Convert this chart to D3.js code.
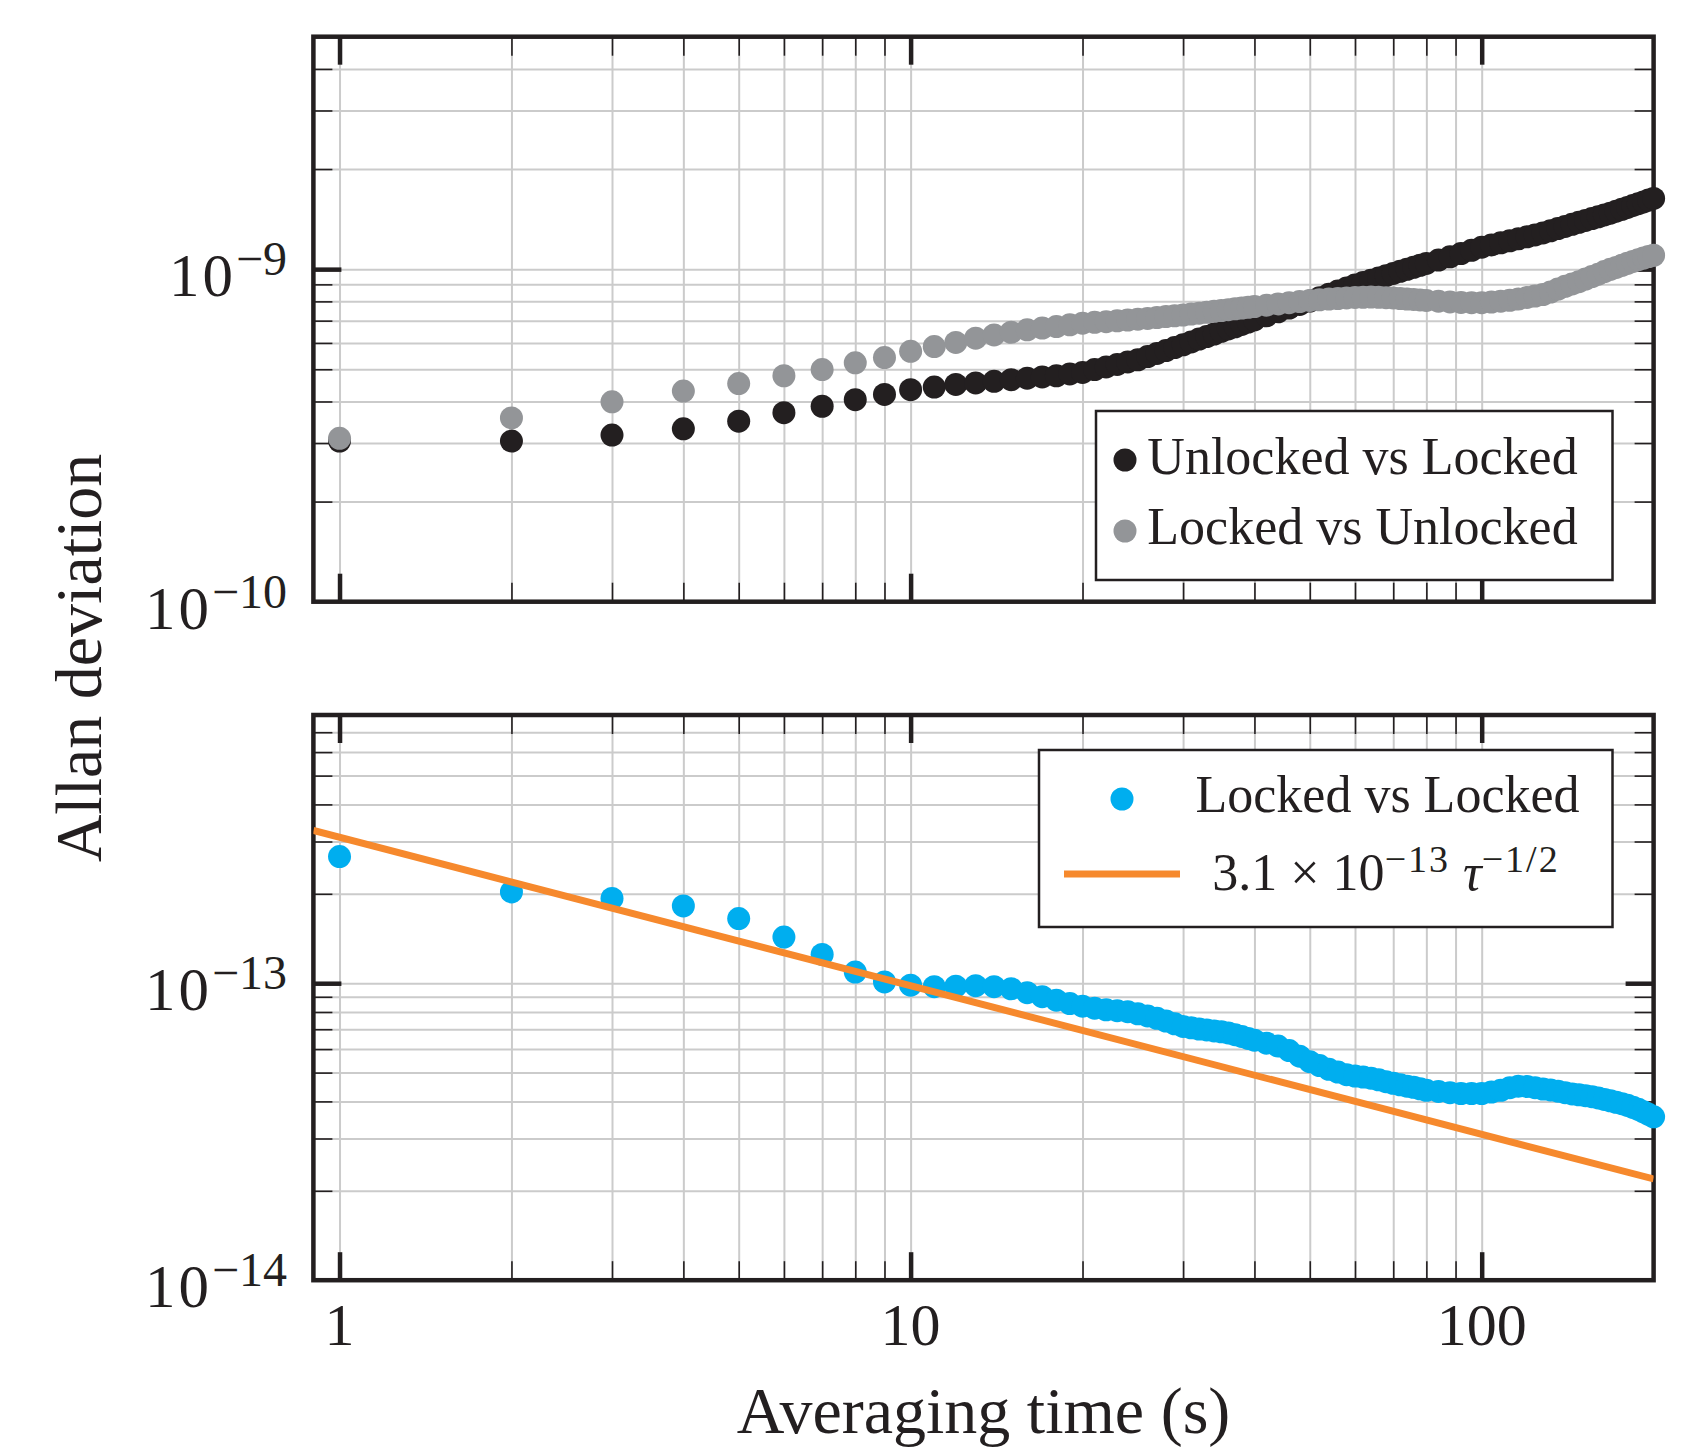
<!DOCTYPE html>
<html>
<head>
<meta charset="utf-8">
<script src="https://cdn.jsdelivr.net/npm/d3@7"></script>
<style>
body { margin: 0; background: #fff; }
text { font-family: "Liberation Serif", "DejaVu Serif", serif; fill: #231f20; }
</style>
</head>
<body>
<script>
// averaging times (s)
const tau = [1, 2, 3, 4, 5, 6, 7, 8, 9, 10,
  11, 12, 13, 14, 15, 16, 17, 18, 19, 20,
  21, 22, 23, 24, 25, 26, 27, 28, 29, 30,
  31, 32, 33, 34, 35, 36, 37, 38, 39, 40,
  42, 44, 46, 48, 50, 52, 54, 56, 58, 60, 62, 64, 66, 68, 70, 72, 74, 76, 78, 80,
  84, 88, 92, 96, 100, 104, 108, 112, 116, 120, 124, 128, 132, 136, 140,
  144, 148, 152, 156, 160, 164, 168, 172, 176, 180, 184, 188, 192, 196, 200];

// top panel, units of 1e-10
const unlockedVsLocked = [3.04, 3.04, 3.17, 3.31, 3.49, 3.70, 3.87, 4.05, 4.20, 4.34,
  4.42, 4.50, 4.55, 4.60, 4.65, 4.70, 4.74, 4.78, 4.84, 4.89,
  4.99, 5.08, 5.17, 5.26, 5.34, 5.46, 5.58, 5.69, 5.81, 5.92,
  6.04, 6.16, 6.27, 6.38, 6.50, 6.61, 6.71, 6.82, 6.93, 7.04,
  7.24, 7.44, 7.64, 7.83, 8.02, 8.21, 8.41, 8.59, 8.77, 8.96, 9.11, 9.26, 9.41, 9.56, 9.71, 9.85, 9.99, 10.13, 10.27, 10.40,
  10.65, 10.89, 11.14, 11.39, 11.64, 11.82, 12.00, 12.17, 12.34, 12.51, 12.67, 12.85, 13.04, 13.24, 13.44,
  13.64, 13.83, 14.01, 14.20, 14.37, 14.55, 14.73, 14.94, 15.13, 15.33, 15.54, 15.73, 15.93, 16.13, 16.32];

const lockedVsUnlocked = [3.10, 3.57, 3.99, 4.30, 4.53, 4.78, 4.99, 5.23, 5.42, 5.66,
  5.85, 6.02, 6.20, 6.34, 6.46, 6.57, 6.65, 6.72, 6.80, 6.88,
  6.92, 6.95, 6.99, 7.03, 7.07, 7.11, 7.15, 7.20, 7.24, 7.28,
  7.33, 7.37, 7.42, 7.47, 7.51, 7.55, 7.60, 7.64, 7.68, 7.72,
  7.79, 7.86, 7.93, 7.99, 8.05, 8.09, 8.13, 8.16, 8.19, 8.22, 8.23, 8.24, 8.23, 8.21, 8.19, 8.16, 8.13, 8.11, 8.08, 8.05,
  8.01, 7.97, 7.94, 7.93, 7.93, 7.96, 8.01, 8.06, 8.13, 8.22, 8.30, 8.39, 8.53, 8.71, 8.88,
  9.03, 9.17, 9.34, 9.50, 9.66, 9.83, 9.99, 10.12, 10.27, 10.41, 10.55, 10.68, 10.80, 10.91, 11.01];

// bottom panel, units of 1e-13
const lockedVsLocked = [2.67, 2.03, 1.93, 1.82, 1.65, 1.43, 1.25, 1.09, 1.01, 0.985,
  0.973, 0.977, 0.981, 0.973, 0.958, 0.929, 0.901, 0.877, 0.854, 0.837,
  0.824, 0.814, 0.808, 0.802, 0.789, 0.776, 0.762, 0.746, 0.730, 0.715,
  0.708, 0.701, 0.696, 0.691, 0.686, 0.680, 0.671, 0.662, 0.652, 0.643,
  0.628, 0.614, 0.593, 0.568, 0.544, 0.528, 0.513, 0.502, 0.492, 0.487, 0.483, 0.479, 0.473, 0.466, 0.460, 0.455, 0.450, 0.446, 0.441, 0.436,
  0.432, 0.428, 0.425, 0.425, 0.425, 0.430, 0.436, 0.445, 0.450, 0.449, 0.445, 0.440, 0.437, 0.433, 0.428,
  0.424, 0.421, 0.418, 0.415, 0.411, 0.406, 0.402, 0.397, 0.393, 0.388, 0.382, 0.376, 0.369, 0.362, 0.355];

const topUnit = 1e-10;
const bottomUnit = 1e-13;
const fitAmp = 3.1e-13;
const fitExp = -0.5;

const xTickLabels = [1, 10, 100];
const topDecades = [-10, -9];
const bottomDecades = [-14, -13];
const topLegend = ["Unlocked vs Locked", "Locked vs Unlocked"];
const bottomLegend = "Locked vs Locked";

const ink = "#231f20", grey = "#939598", blue = "#00aeef", orange = "#f6892d", gridColor = "#cbcbcb";
const r = 11.5;

var svg = d3.select("body").append("svg")
  .attr("width", 1700)
  .attr("height", 1448);

var left = 313.4, right = 1653.6;
var x = d3.scaleLog().domain([0.9, 200]).range([left, right]);
var yTop = d3.scaleLog().domain([1e-10, 5e-9]).range([601.7, 36.7]);
var yBot = d3.scaleLog().domain([1e-14, 8e-13]).range([1280.2, 715]);

function isMajor(d) {
  var l = Math.log10(d);
  return Math.abs(l - Math.round(l)) < 1e-6;
}

function inside(scale) {
  var dom = scale.domain();
  return scale.ticks().filter(d => d > dom[0] * 1.0001 && d < dom[1] * 0.9999);
}

function drawPanel(y) {
  var y0 = y.range()[0], y1 = y.range()[1];
  var xt = inside(x), yt = inside(y);
  var g = svg.append("g");

  // grid
  g.append("g")
    .attr("transform", `translate(0,${y0})`)
    .call(d3.axisBottom(x).tickValues(xt).tickSize(-(y0 - y1)).tickFormat(""))
    .call(s => s.select(".domain").remove())
    .selectAll("line").attr("stroke", gridColor).attr("stroke-width", 2);
  g.append("g")
    .attr("transform", `translate(${left},0)`)
    .call(d3.axisLeft(y).tickValues(yt).tickSize(-(right - left)).tickFormat(""))
    .call(s => s.select(".domain").remove())
    .selectAll("line").attr("stroke", gridColor).attr("stroke-width", 2);

  // ticks on all four sides, pointing inwards
  [[true, 28, 4.5], [false, 19, 1.6]].forEach(function(spec) {
    var xv = xt.filter(d => isMajor(d) === spec[0]);
    var yv = yt.filter(d => isMajor(d) === spec[0]);
    var axes = [
      [d3.axisTop(x).tickValues(xv), `translate(0,${y0})`],
      [d3.axisBottom(x).tickValues(xv), `translate(0,${y1})`],
      [d3.axisRight(y).tickValues(yv), `translate(${left},0)`],
      [d3.axisLeft(y).tickValues(yv), `translate(${right},0)`]
    ];
    axes.forEach(function(a) {
      g.append("g")
        .attr("transform", a[1])
        .call(a[0].tickSize(spec[1]).tickFormat(""))
        .call(s => s.select(".domain").remove())
        .selectAll("line").attr("stroke", ink).attr("stroke-width", spec[2]);
    });
  });

  // frame
  g.append("rect")
    .attr("x", left)
    .attr("y", y1)
    .attr("width", right - left)
    .attr("height", y0 - y1)
    .attr("fill", "none")
    .attr("stroke", ink)
    .attr("stroke-width", 4.5);
}

drawPanel(yTop);
drawPanel(yBot);

// y tick labels 10^n
function powLabel(y, e) {
  var t = svg.append("text")
    .attr("x", 287)
    .attr("y", y(Math.pow(10, e)) + 27)
    .attr("text-anchor", "end")
    .style("font-size", "61px");
  t.append("tspan").style("letter-spacing", "3px").text("10");
  t.append("tspan").attr("dy", -21).style("font-size", "48px").text("\u2212" + Math.abs(e));
}
topDecades.forEach(e => powLabel(yTop, e));
bottomDecades.forEach(e => powLabel(yBot, e));

// x tick labels
svg.selectAll(".xlab")
  .data(xTickLabels)
  .enter()
  .append("text")
  .attr("class", "xlab")
  .attr("x", d => x(d))
  .attr("y", 1345)
  .attr("text-anchor", "middle")
  .style("font-size", "60px")
  .text(d => d);

// axis titles
svg.append("text")
  .attr("x", (left + right) / 2)
  .attr("y", 1433)
  .attr("text-anchor", "middle")
  .style("font-size", "66px")
  .text("Averaging time (s)");

svg.append("text")
  .attr("transform", "translate(101,658) rotate(-90)")
  .attr("text-anchor", "middle")
  .style("font-size", "66px")
  .text("Allan deviation");

// data
function dots(values, unit, y, color) {
  svg.append("g")
    .selectAll("circle")
    .data(tau)
    .enter()
    .append("circle")
    .attr("cx", d => x(d))
    .attr("cy", (d, i) => y(values[i] * unit))
    .attr("r", r)
    .attr("fill", color);
}
dots(unlockedVsLocked, topUnit, yTop, ink);
dots(lockedVsUnlocked, topUnit, yTop, grey);
dots(lockedVsLocked, bottomUnit, yBot, blue);

// fit line
svg.append("clipPath").attr("id", "clipBot")
  .append("rect")
  .attr("x", left).attr("y", yBot.range()[1])
  .attr("width", right - left).attr("height", yBot.range()[0] - yBot.range()[1]);

var fitLine = d3.line()
  .x(d => x(d))
  .y(d => yBot(fitAmp * Math.pow(d, fitExp)));

svg.append("path")
  .datum(x.domain())
  .attr("d", fitLine)
  .attr("clip-path", "url(#clipBot)")
  .attr("fill", "none")
  .attr("stroke", orange)
  .attr("stroke-width", 7);

// legends
svg.append("rect")
  .attr("x", 1096).attr("y", 411)
  .attr("width", 516.5).attr("height", 169)
  .attr("fill", "#fff").attr("stroke", ink).attr("stroke-width", 2.5);

[ink, grey].forEach(function(c, i) {
  svg.append("circle")
    .attr("cx", 1125).attr("cy", 460 + i * 71)
    .attr("r", r).attr("fill", c);
  svg.append("text")
    .attr("x", 1362.5).attr("y", 474 + i * 70)
    .attr("text-anchor", "middle")
    .style("font-size", "52px")
    .text(topLegend[i]);
});

svg.append("rect")
  .attr("x", 1039).attr("y", 750)
  .attr("width", 573.5).attr("height", 177)
  .attr("fill", "#fff").attr("stroke", ink).attr("stroke-width", 2.5);

svg.append("circle")
  .attr("cx", 1122).attr("cy", 799)
  .attr("r", r).attr("fill", blue);
svg.append("text")
  .attr("x", 1387.5).attr("y", 812)
  .attr("text-anchor", "middle")
  .style("font-size", "52px")
  .text(bottomLegend);

svg.append("line")
  .attr("x1", 1064).attr("x2", 1180)
  .attr("y1", 874).attr("y2", 874)
  .attr("stroke", orange).attr("stroke-width", 7);

var f = svg.append("text")
  .attr("x", 1386).attr("y", 890)
  .attr("text-anchor", "middle")
  .style("font-size", "52px");
f.append("tspan").text("3.1 \u00d7 10");
f.append("tspan").attr("dy", -18).style("font-size", "38px").style("letter-spacing", "2px").text("\u221213");
f.append("tspan").attr("dy", 18).text(" ");
f.append("tspan").style("font-style", "italic").text("\u03c4");
f.append("tspan").attr("dy", -18).style("font-size", "38px").style("letter-spacing", "2px").text("\u22121/2");
</script>
</body>
</html>
